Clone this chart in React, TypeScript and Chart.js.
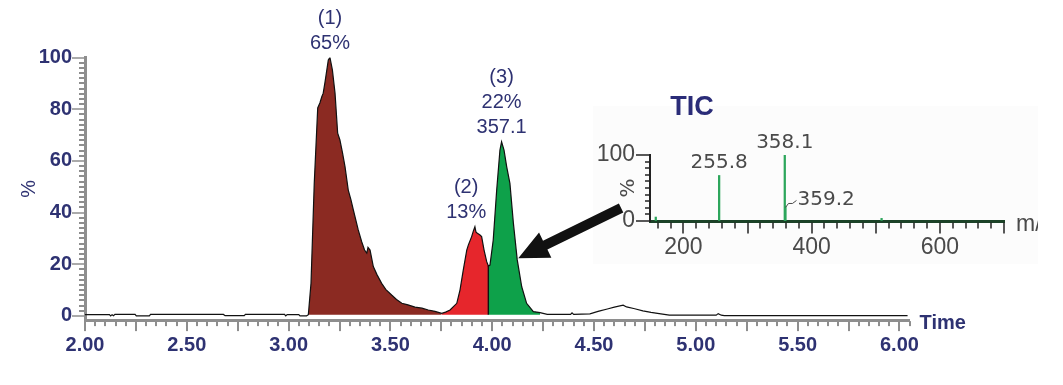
import React, { useEffect, useRef } from "react";
import { Chart, registerables } from "chart.js";

Chart.register(...registerables);

// ---------- Chromatogram data (time in min, intensity in %) ----------
const times: number[] = [
  2.0, 2.12, 2.126, 2.133, 2.14, 2.147, 2.246, 2.252, 2.316, 2.322, 2.68, 2.688, 2.782, 2.788,
  2.98, 2.986, 2.993, 3.05, 3.056, 3.088,
  3.097, 3.11, 3.126, 3.143, 3.154, 3.163, 3.17, 3.179, 3.195, 3.203, 3.215, 3.228, 3.241, 3.252,
  3.265, 3.277, 3.293, 3.306, 3.318, 3.342, 3.359, 3.373, 3.384, 3.39, 3.4, 3.41, 3.416, 3.434,
  3.457, 3.478, 3.506, 3.53, 3.556, 3.586, 3.621, 3.655, 3.686, 3.719, 3.752,
  3.771, 3.793, 3.826, 3.842, 3.858, 3.875, 3.883, 3.899, 3.908, 3.915, 3.92, 3.927, 3.94, 3.948,
  3.96, 3.973, 3.981,
  3.989, 4.005, 4.022, 4.038, 4.046, 4.058, 4.071, 4.087, 4.104, 4.123, 4.145, 4.169, 4.202, 4.235,
  4.27, 4.385, 4.392, 4.4, 4.48, 4.52, 4.57, 4.6, 4.643, 4.66, 4.7, 4.74, 4.78, 4.82, 4.87,
  5.1, 5.11, 5.125, 5.14, 6.04,
];
const intensity: number[] = [
  0.5, 0.5, 0.0, 0.5, 0.1, 0.6, 0.6, 0.0, 0.0, 0.6, 0.6, 0.1, 0.1, 0.6,
  0.6, 0.0, 0.5, 0.5, 0.0, 0.0,
  0.5, 12.6, 51.4, 80.5, 82.5, 84.8, 86.2, 90.6, 99.0, 100, 95.2, 86.2, 70.7, 68.1,
  63.0, 57.8, 48.7, 45.0, 41.0, 33.3, 28.7, 25.5, 24.3, 26.5, 25.5, 21.5, 19.1, 16.0,
  12.6, 10.2, 8.1, 6.4, 4.9, 4.3, 3.4, 3.0, 2.3, 1.8, 1.0,
  1.5, 2.3, 4.9, 10.1, 17.8, 25.5, 27.5, 30.7, 33.0, 34.5, 32.5, 32.0, 31.3, 30.7,
  25.5, 21.0, 19.3,
  19.7, 29.4, 48.7, 64.2, 67.4, 64.2, 57.8, 51.3, 35.9, 21.7, 11.3, 4.9, 1.7, 1.3,
  0.6, 0.6, 1.2, 0.6, 0.8, 1.8, 2.8, 3.4, 4.2, 3.5, 2.8, 2.0, 1.4, 0.9, 0.3,
  0.3, 0.9, 0.3, 0.1, 0.1,
];

// integrated peaks: [start, end] in minutes
const peakRanges: [number, number][] = [
  [3.097, 3.752],
  [3.752, 3.981],
  [3.981, 4.235],
];
const peakColors = ["#8b2a22", "#e6262c", "#0ea14a"];
const peakIds = ["(1)", "(2)", "(3)"];
const peakShares = ["65%", "13%", "22%"];
const peakMasses = ["", "", "357.1"];
const peakLabelTimes = [3.203, 3.872, 4.046];
const integrationBase = 0.5;

const yTickValues = [0, 20, 40, 60, 80, 100];
const xTickValues = [2.0, 2.5, 3.0, 3.5, 4.0, 4.5, 5.0, 5.5, 6.0];

const arrowFrom = { x: 4.633, y: 41.8 };
const arrowTo = { x: 4.128, y: 22.3 };

// ---------- Inset mass spectrum (TIC) ----------
const mzValues = [157, 255.8, 358.1, 359.2, 509];
const mzAbundance = [6, 69, 100, 22, 4];
const mzLabelled = [255.8, 358.1, 359.2];
const mzLabelSide = ["above", "above", "right"];
const mzTickValues = [200, 400, 600];
const mzYTickValues = [0, 100];

// ---------- styles ----------
const NAVY = "#2e3272";
const AXIS_GRAY = "#8e8e8e";
const SANS = '"Liberation Sans", Arial, sans-serif';
const INSET_TXT = "#4a4a4a";
const INSET_TICK_FONT = '"Liberation Sans", Arial, sans-serif';
const INSET_LABEL_FONT = '"DejaVu Sans", sans-serif';

const mainDecor = {
  id: "mainDecor",
  afterDraw(chart: any) {
    const { ctx, chartArea } = chart;
    const xs = chart.scales.x;
    const ys = chart.scales.y;
    ctx.save();
    // y ticks
    ctx.fillStyle = AXIS_GRAY;
    for (let v = 0; v <= 100; v += 2) {
      const py = Math.round(ys.getPixelForValue(v));
      if (v % 20 === 0) ctx.fillRect(chartArea.left - 13, py - 0.75, 12, 1.5);
      else ctx.fillRect(chartArea.left - 6, py - 1, 5, 2);
    }
    // x ticks
    for (let k = 0; 2 + k * 0.05 <= xs.max + 1e-9; k++) {
      const v = 2 + k * 0.05;
      const px = Math.round(xs.getPixelForValue(v));
      const major = k % 5 === 0;
      ctx.fillRect(px - 1, chartArea.bottom + 1, 2, major ? 10 : 5);
    }
    // "Time"
    ctx.fillStyle = NAVY;
    ctx.font = `bold 20px ${SANS}`;
    ctx.textAlign = "left";
    ctx.textBaseline = "middle";
    ctx.fillText("Time", chartArea.right + 10, chartArea.bottom + 3.5);

    // peak labels
    ctx.font = `20px ${SANS}`;
    ctx.textAlign = "center";
    peakRanges.forEach(([a, b], k) => {
      let maxY = 0;
      times.forEach((t, i) => {
        if (t >= a - 1e-9 && t <= b + 1e-9) maxY = Math.max(maxY, intensity[i]);
      });
      const px = xs.getPixelForValue(peakLabelTimes[k]);
      const top = ys.getPixelForValue(maxY);
      const lines = [peakIds[k], peakShares[k], peakMasses[k]].filter(Boolean);
      lines.forEach((s, j) => {
        ctx.fillText(s, px, top - 14 - (lines.length - 1 - j) * 25);
      });
    });

    // arrow
    const x1 = xs.getPixelForValue(arrowFrom.x);
    const y1 = ys.getPixelForValue(arrowFrom.y);
    const x2 = xs.getPixelForValue(arrowTo.x);
    const y2 = ys.getPixelForValue(arrowTo.y);
    const dx = x2 - x1, dy = y2 - y1;
    const len = Math.hypot(dx, dy);
    const ux = dx / len, uy = dy / len;
    const nx = -uy, ny = ux;
    const headLen = 30, headHalf = 14, shaftHalf = 5;
    const bx = x2 - ux * headLen, by = y2 - uy * headLen;
    ctx.beginPath();
    ctx.moveTo(x1 + nx * shaftHalf, y1 + ny * shaftHalf);
    ctx.lineTo(bx + nx * shaftHalf, by + ny * shaftHalf);
    ctx.lineTo(bx + nx * headHalf, by + ny * headHalf);
    ctx.lineTo(x2, y2);
    ctx.lineTo(bx - nx * headHalf, by - ny * headHalf);
    ctx.lineTo(bx - nx * shaftHalf, by - ny * shaftHalf);
    ctx.lineTo(x1 - nx * shaftHalf, y1 - ny * shaftHalf);
    ctx.closePath();
    ctx.fillStyle = "#111";
    ctx.fill();
    ctx.restore();
  },
};

const insetDecor = {
  id: "insetDecor",
  beforeDraw(chart: any) {
    const { ctx } = chart;
    ctx.save();
    ctx.fillStyle = "#fcfcfc";
    ctx.fillRect(0, 18, chart.width, chart.height - 18);
    ctx.restore();
  },
  afterDraw(chart: any) {
    const { ctx, chartArea } = chart;
    const xs = chart.scales.x;
    const ys = chart.scales.y;
    ctx.save();
    ctx.fillStyle = "#222";
    for (let v = 0; v <= 100; v += 10) {
      const py = Math.round(ys.getPixelForValue(v));
      const major = v === 0 || v === 100;
      ctx.fillRect(chartArea.left - (major ? 14 : 5), py - 0.75, major ? 14 : 5, 1.5);
    }
    for (let v = 160; v <= xs.max + 1e-9; v += 20) {
      const px = Math.round(xs.getPixelForValue(v));
      const major = v % 100 === 0;
      ctx.fillRect(px - 0.75, chartArea.bottom + 1.5, 1.5, major ? 11 : 6);
    }
    // TIC title
    ctx.fillStyle = "#2a2c78";
    ctx.font = `bold 27px ${SANS}`;
    ctx.textAlign = "center";
    ctx.textBaseline = "middle";
    ctx.fillText("TIC", chartArea.left + 42, 20);
    // m/z axis label (clipped by panel edge)
    ctx.fillStyle = INSET_TXT;
    ctx.font = `23px ${INSET_TICK_FONT}`;
    ctx.textAlign = "left";
    ctx.fillText("m/z", chartArea.right + 12, chartArea.bottom + 4);
    // peak labels
    ctx.font = `20px ${INSET_LABEL_FONT}`;
    mzLabelled.forEach((m, k) => {
      const idx = mzValues.indexOf(m);
      const px = xs.getPixelForValue(m);
      const py = ys.getPixelForValue(mzAbundance[idx]);
      const txt = m.toFixed(1);
      if (mzLabelSide[k] === "above") {
        ctx.textAlign = "center";
        ctx.fillText(txt, px, py - 12.5);
      } else {
        ctx.strokeStyle = INSET_TXT;
        ctx.lineWidth = 1;
        ctx.beginPath();
        ctx.moveTo(px, py + 1);
        ctx.lineTo(px + 3, py - 3);
        ctx.lineTo(px + 7, py - 3);
        ctx.lineTo(px + 11, py - 6);
        ctx.stroke();
        ctx.textAlign = "left";
        ctx.fillText(txt, px + 12, py - 7);
      }
    });
    ctx.restore();
  },
};

function mainConfig(): any {
  const points = times.map((t, i) => ({ x: t, y: intensity[i] }));
  const peakDatasets = peakRanges.map(([a, b], k) => ({
    type: "line",
    data: points.filter((p) => p.x >= a - 1e-9 && p.x <= b + 1e-9),
    borderColor: "rgba(0,0,0,0)",
    borderWidth: 1,
    backgroundColor: peakColors[k],
    fill: { value: integrationBase },
    pointRadius: 0,
    tension: 0,
    order: 2,
  }));
  const splitT = peakRanges[1][1];
  const splitIdx = times.findIndex((t) => Math.abs(t - splitT) < 1e-9);
  const splitDs = {
    type: "line",
    data: [
      { x: splitT, y: integrationBase },
      { x: splitT, y: intensity[splitIdx] },
    ],
    borderColor: "#111",
    borderWidth: 1.4,
    pointRadius: 0,
    fill: false,
    order: 0,
  };
  const traceDs = {
    type: "line",
    data: points,
    borderColor: "#111",
    borderWidth: 1.2,
    pointRadius: 0,
    fill: false,
    tension: 0,
    order: 1,
  };
  return {
    type: "line",
    data: { datasets: [traceDs, splitDs, ...peakDatasets] },
    options: {
      animation: false,
      responsive: false,
      devicePixelRatio: 1,
      events: [],
      layout: { padding: { left: 0, top: 57.5, right: 153.4, bottom: 0 } },
      plugins: { legend: { display: false }, tooltip: { enabled: false } },
      scales: {
        x: {
          type: "linear",
          min: 2.0,
          max: 6.05,
          grid: { display: true, drawOnChartArea: false, drawTicks: false, color: "rgba(0,0,0,0)" },
          border: { display: true, color: AXIS_GRAY, width: 3 },
          afterBuildTicks: (s: any) => {
            s.ticks = xTickValues.map((v) => ({ value: v }));
          },
          afterFit: (s: any) => {
            s.height = 64.9;
          },
          ticks: {
            autoSkip: false,
            maxRotation: 0,
            padding: 13,
            color: NAVY,
            font: { family: SANS, size: 20, weight: "bold" },
            callback: (v: any) => Number(v).toFixed(2),
          },
        },
        y: {
          type: "linear",
          min: -1.6,
          max: 100,
          grid: { display: true, drawOnChartArea: false, drawTicks: false, color: "rgba(0,0,0,0)" },
          border: { display: true, color: AXIS_GRAY, width: 3 },
          afterBuildTicks: (s: any) => {
            s.ticks = yTickValues.map((v) => ({ value: v }));
          },
          afterFit: (s: any) => {
            s.width = 85;
          },
          ticks: {
            padding: 13,
            color: NAVY,
            font: { family: SANS, size: 20, weight: "bold" },
            callback: (v: any) => String(v),
          },
          title: {
            display: true,
            text: "%",
            color: NAVY,
            font: { family: SANS, size: 20 },
            padding: { top: 17, bottom: 0 },
          },
        },
      },
    },
    plugins: [mainDecor],
  };
}

function insetConfig(): any {
  return {
    type: "bar",
    data: {
      datasets: [
        {
          data: mzValues.map((m, i) => ({ x: m, y: mzAbundance[i] })),
          backgroundColor: "#2da65c",
          borderWidth: 0,
          barThickness: 1.6,
        },
      ],
    },
    options: {
      animation: false,
      responsive: false,
      devicePixelRatio: 1,
      events: [],
      layout: { padding: { left: 0, top: 67, right: 33.9, bottom: 0 } },
      plugins: { legend: { display: false }, tooltip: { enabled: false } },
      scales: {
        x: {
          type: "linear",
          min: 148,
          max: 700,
          offset: false,
          grid: { display: true, offset: false, drawOnChartArea: false, drawTicks: false, color: "rgba(0,0,0,0)" },
          border: { display: true, color: "#1b4227", width: 3 },
          afterBuildTicks: (s: any) => {
            s.ticks = mzTickValues.map((v) => ({ value: v }));
          },
          afterFit: (s: any) => {
            s.height = 43;
          },
          ticks: {
            autoSkip: false,
            maxRotation: 0,
            padding: 13,
            color: INSET_TXT,
            font: { family: INSET_TICK_FONT, size: 23 },
            callback: (v: any) => String(v),
          },
        },
        y: {
          type: "linear",
          min: 0,
          max: 100,
          grid: { display: true, drawOnChartArea: false, drawTicks: false, color: "rgba(0,0,0,0)" },
          border: { display: true, color: "#222", width: 2 },
          afterBuildTicks: (s: any) => {
            s.ticks = mzYTickValues.map((v) => ({ value: v }));
          },
          afterFit: (s: any) => {
            s.width = 57;
          },
          ticks: {
            padding: 15,
            color: INSET_TXT,
            font: { family: INSET_TICK_FONT, size: 23 },
            callback: (v: any) => String(v),
          },
          title: {
            display: true,
            text: "%",
            color: INSET_TXT,
            font: { family: INSET_LABEL_FONT, size: 20 },
            padding: { top: 24, bottom: 0 },
          },
        },
      },
    },
    plugins: [insetDecor],
  };
}

export default function App() {
  const mainRef = useRef<HTMLCanvasElement>(null);
  const insetRef = useRef<HTMLCanvasElement>(null);
  useEffect(() => {
    const main = new Chart(mainRef.current as HTMLCanvasElement, mainConfig());
    const inset = new Chart(insetRef.current as HTMLCanvasElement, insetConfig());
    return () => {
      main.destroy();
      inset.destroy();
    };
  }, []);
  return (
    <div style={{ position: "fixed", left: 0, top: 0, width: 1063, height: 385, background: "#fff" }}>
      <canvas
        ref={insetRef}
        width={445}
        height={176}
        style={{ position: "absolute", left: 593, top: 88, width: 445, height: 176, zIndex: 1 }}
      />
      <canvas
        ref={mainRef}
        width={1063}
        height={385}
        style={{ position: "absolute", left: 0, top: 0, width: 1063, height: 385, zIndex: 2 }}
      />
    </div>
  );
}
